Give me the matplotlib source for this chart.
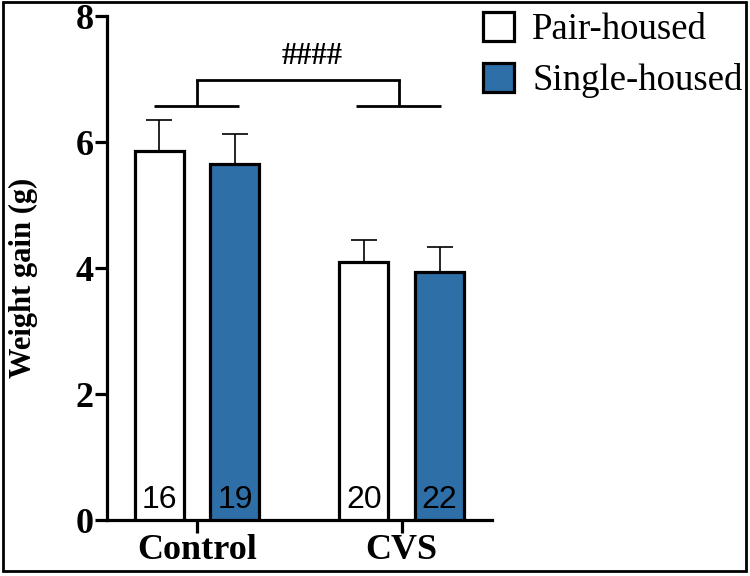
import matplotlib.pyplot as plt
from matplotlib.patches import Rectangle
import numpy as np

groups = ['Control', 'CVS']
series = ['Pair-housed', 'Single-housed']
means = {'Pair-housed': [5.85, 4.10], 'Single-housed': [5.65, 3.94]}
sems = {'Pair-housed': [0.50, 0.34], 'Single-housed': [0.48, 0.39]}
counts = {'Pair-housed': [16, 20], 'Single-housed': [19, 22]}
colors = {'Pair-housed': 'white', 'Single-housed': '#2E6FA7'}

serif = 'Liberation Serif'
sans = 'Liberation Sans'

fig = plt.figure(figsize=(7.5, 5.76), dpi=100)
ax = fig.add_axes([0.1427, 0.0972, 0.513, 0.875])

x = np.arange(len(groups))
offsets = [-0.185, 0.185]
width = 0.24
handles = []
for s, off in zip(series, offsets):
    bars = ax.bar(x + off, means[s], width, color=colors[s], edgecolor='black',
                  linewidth=2.3, zorder=3, label=s)
    handles.append(bars)
    ax.errorbar(x + off, means[s], yerr=[np.zeros(len(groups)), sems[s]], fmt='none',
                ecolor='black', elinewidth=1.2, capsize=9.5, capthick=1.2, zorder=2)
    for xi, n in zip(x + off, counts[s]):
        ax.text(xi, 0.08, str(n), ha='center', va='bottom', fontsize=23,
                family=sans, color='black', zorder=4)

# significance bracket between stress conditions
lo, hi = 6.57, 6.98
centers = [0.0, 0.985]
for c in centers:
    ax.plot([c - 0.21, c + 0.205], [lo, lo], color='black', lw=2, solid_capstyle='butt')
    ax.plot([c, c], [lo, hi], color='black', lw=2, solid_capstyle='butt')
ax.plot(centers, [hi, hi], color='black', lw=2, solid_capstyle='projecting')
ax.text(0.56, 7.12, '####', ha='center', va='bottom', fontsize=22,
        family=serif, fontweight='bold')

ax.set_xlim(-0.44, 1.44)
ax.set_ylim(0, 8)
ax.set_yticks([0, 2, 4, 6, 8])
ax.set_xticks(x)
ax.set_xticklabels(groups)
for sp in ['top', 'right']:
    ax.spines[sp].set_visible(False)
for sp in ['left', 'bottom']:
    ax.spines[sp].set_linewidth(2.3)
ax.tick_params(axis='y', length=8.5, width=2.3, pad=1)
ax.tick_params(axis='x', length=9, width=2.3, pad=1)
for lab in ax.get_xticklabels() + ax.get_yticklabels():
    lab.set_family(serif)
    lab.set_fontweight('bold')
    lab.set_fontsize(26)
ax.set_ylabel('Weight gain (g)', family=serif, fontweight='bold', fontsize=22)
ax.yaxis.set_label_coords(-0.18, 0.48)

leg = fig.legend(handles=handles, loc='upper left', bbox_to_anchor=(0.624, 1.005),
                 frameon=False, prop={'family': serif, 'size': 26.5},
                 handlelength=0.85, handleheight=0.85, handletextpad=0.5,
                 labelspacing=0.42, borderaxespad=0.0)

fig.patches.append(Rectangle((0.004, 0.008), 0.991, 0.988, transform=fig.transFigure,
                             fill=False, edgecolor='black', linewidth=2))

fig.savefig('out.png', dpi=100)
